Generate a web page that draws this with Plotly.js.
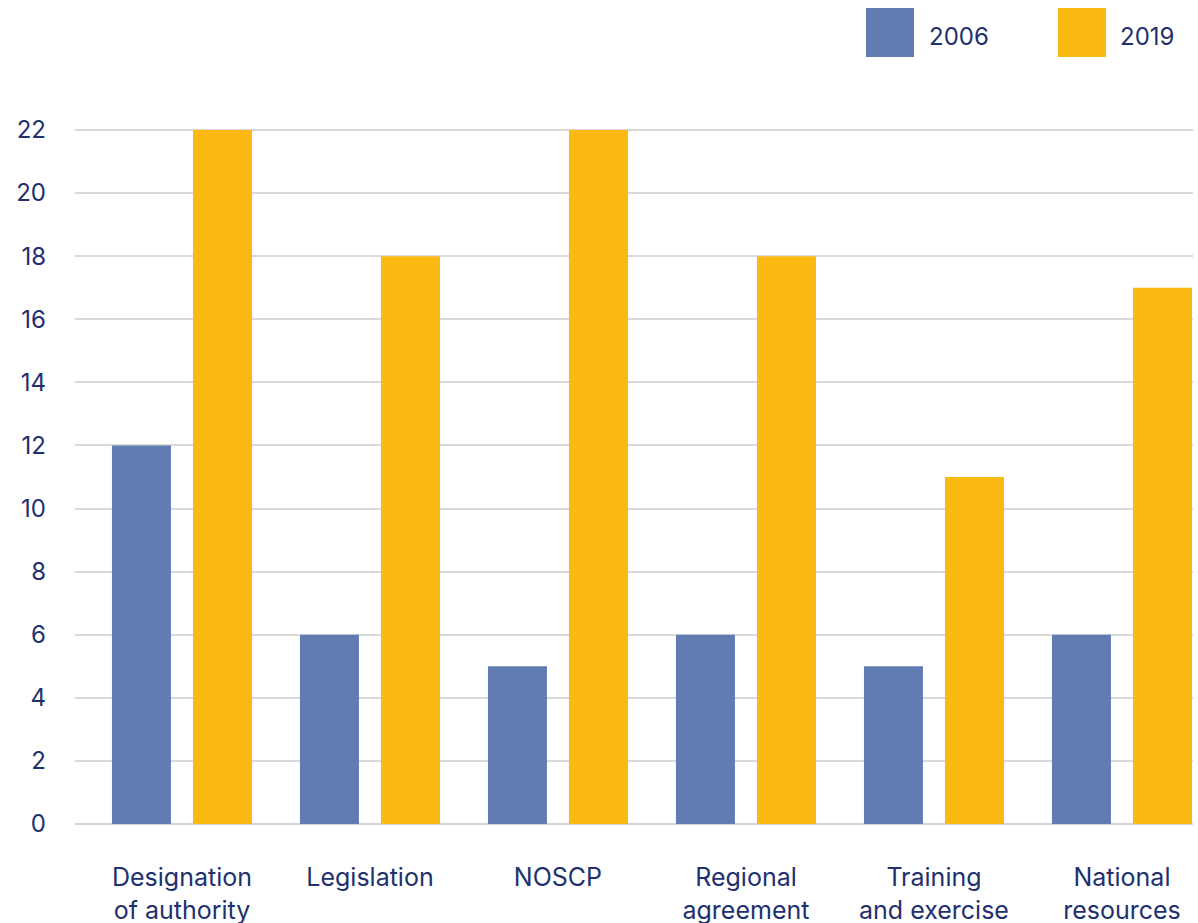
<!DOCTYPE html>
<html>
<head>
<meta charset="utf-8">
<script src="https://cdn.plot.ly/plotly-3.0.1.min.js"></script>
<style>html,body{margin:0;padding:0;background:#fff;}#chart{width:1198px;height:923px;}</style>
</head>
<body>
<div id="chart"></div>
<script>
const categories = ["Designation<br>of authority", "Legislation", "NOSCP", "Regional<br>agreement", "Training<br>and exercise", "National<br>resources"];
const values2006 = [12, 6, 5, 6, 5, 6];
const values2019 = [22, 18, 22, 18, 11, 17];
const seriesNames = ["2006", "2019"];
const yTicks = [0, 2, 4, 6, 8, 10, 12, 14, 16, 18, 20, 22];

const blue = "#617cb3", yellow = "#fcb813", textColor = "#22306e";
const FONT = "Inter, Lato, 'Open Sans', sans-serif";
const W = 1198, H = 923, L = 75, R = 5, T = 120, B = 99;
const pw = W - L - R, ph = H - T - B;
const px = x => (x - L) / pw;
const py = y => (H - B - y) / ph;

const traces = [
  {type: "bar", x: categories, y: values2006, name: seriesNames[0], marker: {color: blue}, hoverinfo: "x+y"},
  {type: "bar", x: categories, y: values2019, name: seriesNames[1], marker: {color: yellow}, hoverinfo: "x+y"}
];

const layout = {
  width: W, height: H,
  margin: {l: L, r: R, t: T, b: B},
  paper_bgcolor: "#fff", plot_bgcolor: "#fff",
  font: {family: FONT, size: 24, color: textColor},
  barmode: "group", bargap: 0.138, bargroupgap: 0.272,
  showlegend: false,
  xaxis: {
    type: "category", range: [-0.569, -0.569 + pw / 188],
    showgrid: false, zeroline: false, showline: false, ticks: "",
    tickfont: {family: FONT, size: 25, color: textColor}, ticklabelstandoff: 36
  },
  yaxis: {
    range: [0, 22.317], tickvals: yTicks, ticktext: yTicks.map(String),
    showgrid: true, gridcolor: "#d9d9d9", gridwidth: 2,
    zeroline: true, zerolinecolor: "#d4d4d4", zerolinewidth: 2,
    showline: false, ticks: "",
    tickfont: {family: FONT, size: 24, color: textColor}, ticklabelstandoff: 28
  },
  shapes: [
    {type: "rect", xref: "paper", yref: "paper", x0: px(866), x1: px(914), y0: py(57), y1: py(8), fillcolor: blue, line: {width: 0}},
    {type: "rect", xref: "paper", yref: "paper", x0: px(1058), x1: px(1106), y0: py(57), y1: py(8), fillcolor: yellow, line: {width: 0}}
  ],
  annotations: [
    {xref: "paper", yref: "paper", x: px(927), y: py(37), xanchor: "left", yanchor: "middle", text: seriesNames[0], showarrow: false, font: {family: FONT, size: 24, color: textColor}},
    {xref: "paper", yref: "paper", x: px(1118), y: py(37), xanchor: "left", yanchor: "middle", text: seriesNames[1], showarrow: false, font: {family: FONT, size: 24, color: textColor}}
  ]
};

Plotly.newPlot("chart", traces, layout, {displayModeBar: false, responsive: false});
</script>
</body>
</html>
